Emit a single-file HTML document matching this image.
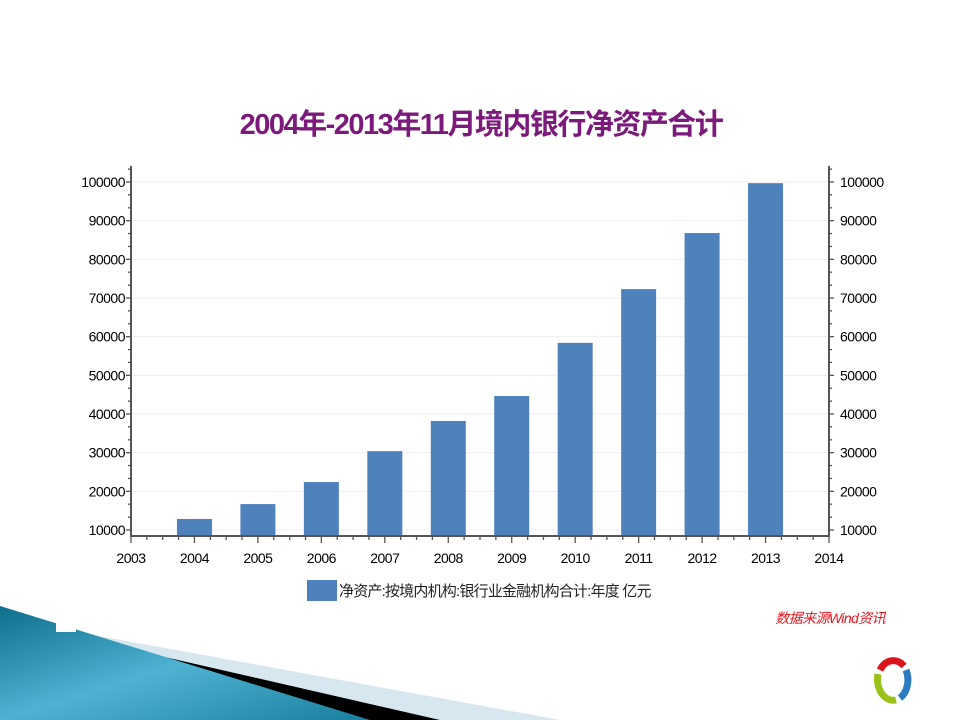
<!DOCTYPE html>
<html><head><meta charset="utf-8"><style>
body{margin:0;background:#fff;}
svg{display:block;font-family:"Liberation Sans","Noto Sans CJK SC",sans-serif;}
</style></head><body>
<svg width="960" height="720">
<defs><linearGradient id="tg" x1="0" y1="0" x2="1" y2="1"><stop offset="0" stop-color="#0e6f8c"/><stop offset="0.5" stop-color="#4fb2d2"/><stop offset="1" stop-color="#1a7f9f"/></linearGradient></defs>
<g>
<polygon points="55,628 560,720 0,720 0,628" fill="#d6e7ef"/>
<polygon points="38,628 440,720 0,720" fill="#000"/>
<polygon points="0,606 370,720 0,720" fill="url(#tg)"/>
<rect x="56" y="622" width="20" height="10" fill="#fff"/>
</g>
<text x="481" y="134" text-anchor="middle" font-size="29" font-weight="bold" fill="#7b1a7b" letter-spacing="-1.5">2004年-2013年11月境内银行净资产合计</text>
<g id="grid"></g><g id="bars"></g><g id="axes"></g>
<g>
<rect x="307" y="580" width="30" height="21" fill="#4f81bd"/>
<text x="339" y="596" font-size="15" fill="#222" letter-spacing="-0.8">净资产:按境内机构:银行业金融机构合计:年度 亿元</text>
</g>
<text x="885" y="623" text-anchor="end" font-size="14" font-style="italic" fill="#e8141e" letter-spacing="-0.6">数据来源Wind资讯</text>
<g fill="none" stroke-width="7">
<path d="M880,670 A16,21 0 0 1 904,666" stroke="#d9141c"/>
<path d="M906,670 A16,21 0 0 1 900,698" stroke="#2a7bc0"/>
<path d="M896,700 A16,21 0 0 1 878,674" stroke="#9bc21a"/>
</g>
</svg>
<script>
const years=[2004,2005,2006,2007,2008,2009,2010,2011,2012,2013];
const values=[12850,16700,22400,30400,38200,44650,58400,72300,86800,99700];
const yTicks=[10000,20000,30000,40000,50000,60000,70000,80000,90000,100000];
const xTicks=[2003,2004,2005,2006,2007,2008,2009,2010,2011,2012,2013,2014];
const NS="http://www.w3.org/2000/svg";
const L=131,R=829,B=536;
const xs=v=>L+(v-2003)*(R-L)/11;
const ys=v=>530-(v-10000)*(348/90000);
function mk(t,a,p){const e=document.createElementNS(NS,t);for(const k in a)e.setAttribute(k,a[k]);p.appendChild(e);return e;}
const grid=document.getElementById('grid'),bars=document.getElementById('bars'),axes=document.getElementById('axes');
yTicks.forEach(v=>{const g=mk('line',{x1:L,x2:R,y1:ys(v),y2:ys(v),stroke:'#eeeeee'},grid);

});
years.forEach((y,i)=>{const r=mk('rect',{x:xs(y)-17.5,width:35,y:ys(values[i]),height:B-ys(values[i]),fill:'#4f81bd'},bars);

});
const ax={stroke:'#555','stroke-width':2};
mk('line',Object.assign({x1:L,x2:L,y1:166,y2:B+1},ax),axes);
mk('line',Object.assign({x1:R,x2:R,y1:166,y2:B+1},ax),axes);
mk('line',Object.assign({x1:L,x2:R,y1:B,y2:B},ax),axes);
for(let k=-3;k<=33;k++){const v=10000+k*10000/3;const y=ys(v);if(y<166||y>B)continue;const major=k%3===0;const w=major?5:3;
mk('line',{x1:L-w,x2:L,y1:y,y2:y,stroke:'#555','stroke-width':1.3},axes);
mk('line',{x1:R,x2:R+w,y1:y,y2:y,stroke:'#555','stroke-width':1.3},axes);}
yTicks.forEach(v=>{
const t1=mk('text',{x:L-6,y:ys(v)+5,'text-anchor':'end','font-size':14,fill:'#000','letter-spacing':-0.5},axes);t1.textContent=v;


const t2=mk('text',{x:R+11,y:ys(v)+5,'font-size':14,fill:'#000','letter-spacing':-0.5},axes);t2.textContent=v;

});
for(let k=0;k<=44;k++){const x=L+k*(R-L)/44;const major=k%4===0;
mk('line',{x1:x,x2:x,y1:B,y2:B+(major?7:4),stroke:'#555','stroke-width':1.3},axes);}
xTicks.forEach(v=>{const t=mk('text',{x:xs(v),y:563,'text-anchor':'middle','font-size':14,fill:'#000','letter-spacing':-0.5},axes);t.textContent=v;

});
</script>
</body></html>
